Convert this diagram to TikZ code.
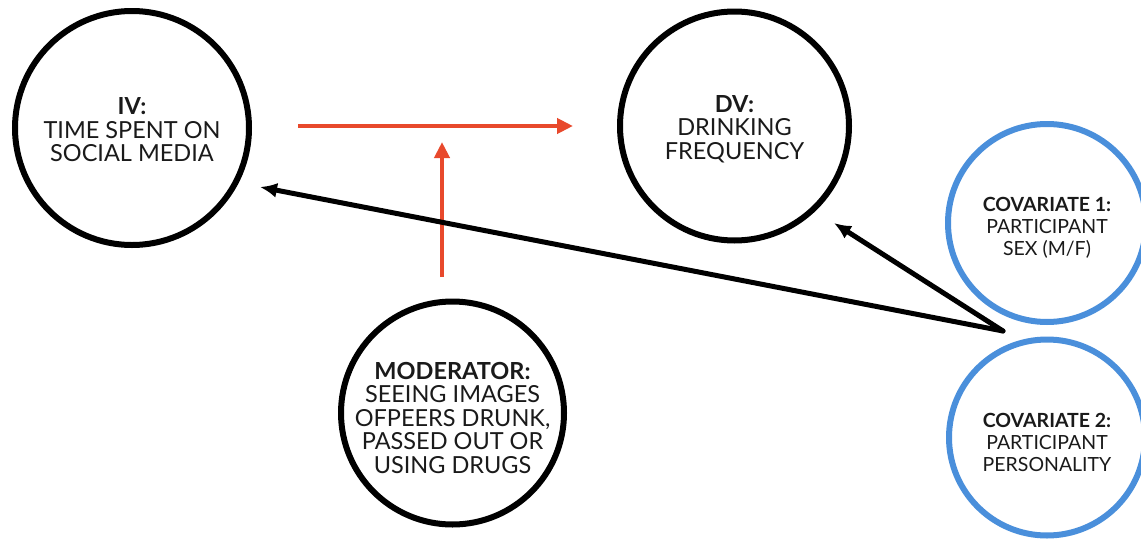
\documentclass[tikz,border=0pt]{standalone}
\usepackage{fontspec}
\setmainfont{Lato}
\usetikzlibrary{arrows.meta}
\definecolor{accent}{HTML}{E8492C}
\definecolor{covblue}{HTML}{4A8FDB}
\definecolor{ink}{HTML}{1A1A1A}

\begin{document}
\begin{tikzpicture}[x=1pt,y=-1pt,
  var/.style={circle, draw=black, line width=6pt, inner sep=0pt, fill=white},
  cov/.style={var, draw=covblue},
  vartext/.style={align=center, text=ink, inner sep=0pt, font=\fontsize{23.5}{23.5}\selectfont},
  covtext/.style={vartext, font=\fontsize{19.5}{22}\selectfont},
  redarrow/.style={draw=accent, line width=4.5pt, -{Triangle[length=16pt,width=15pt]}},
  blkarrow/.style={draw=black, line width=5pt, line cap=round, -{Latex[length=17pt,width=15pt]}}
]
\useasboundingbox (0,0) rectangle (1141,541);

% variable circles
\node[var, minimum size=234pt] (iv)   at (132,128)    {};
\node[var, minimum size=229pt] (dv)   at (734.5,126)  {};
\node[var, minimum size=223pt] (mod)  at (452.5,413)  {};
\node[cov, minimum size=198pt] (cov1) at (1047,223)   {};
\node[cov, minimum size=196pt] (cov2) at (1047,437.5) {};

% their texts
\node[vartext] (iv-t)   at ([yshift=-2pt]iv.center)
  {\textbf{IV:}\\TIME SPENT ON\\SOCIAL MEDIA};
\node[vartext] (dv-t)   at ([yshift=-3pt]dv.center)
  {\textbf{DV:}\\DRINKING\\FREQUENCY};
\node[vartext] (mod-t)  at ([yshift=-5pt]mod.center)
  {\textbf{MODERATOR:}\\SEEING IMAGES\\OFPEERS DRUNK,\\PASSED OUT OR\\USING DRUGS};
\node[covtext] (cov1-t) at ([yshift=-5pt]cov1.center)
  {\textbf{COVARIATE 1:}\\PARTICIPANT\\SEX (M/F)};
\node[covtext] (cov2-t) at ([yshift=-5pt]cov2.center)
  {\textbf{COVARIATE 2:}\\PARTICIPANT\\PERSONALITY};

% moderation arrows
\coordinate (hs) at (298,126);
\coordinate (he) at (573,126);
\coordinate (vs) at (442,277);
\coordinate (ve) at (442,142);
\draw[redarrow] (hs) -- (he);
\draw[redarrow] (vs) -- (ve);

% covariate arrows
\coordinate (hub) at (1003,331);
\coordinate (ivtip) at (260,187);
\coordinate (dvtip) at (834,223);
\draw[blkarrow] (hub) -- (ivtip);
\draw[blkarrow] (hub) -- (dvtip);
\end{tikzpicture}
\end{document}
